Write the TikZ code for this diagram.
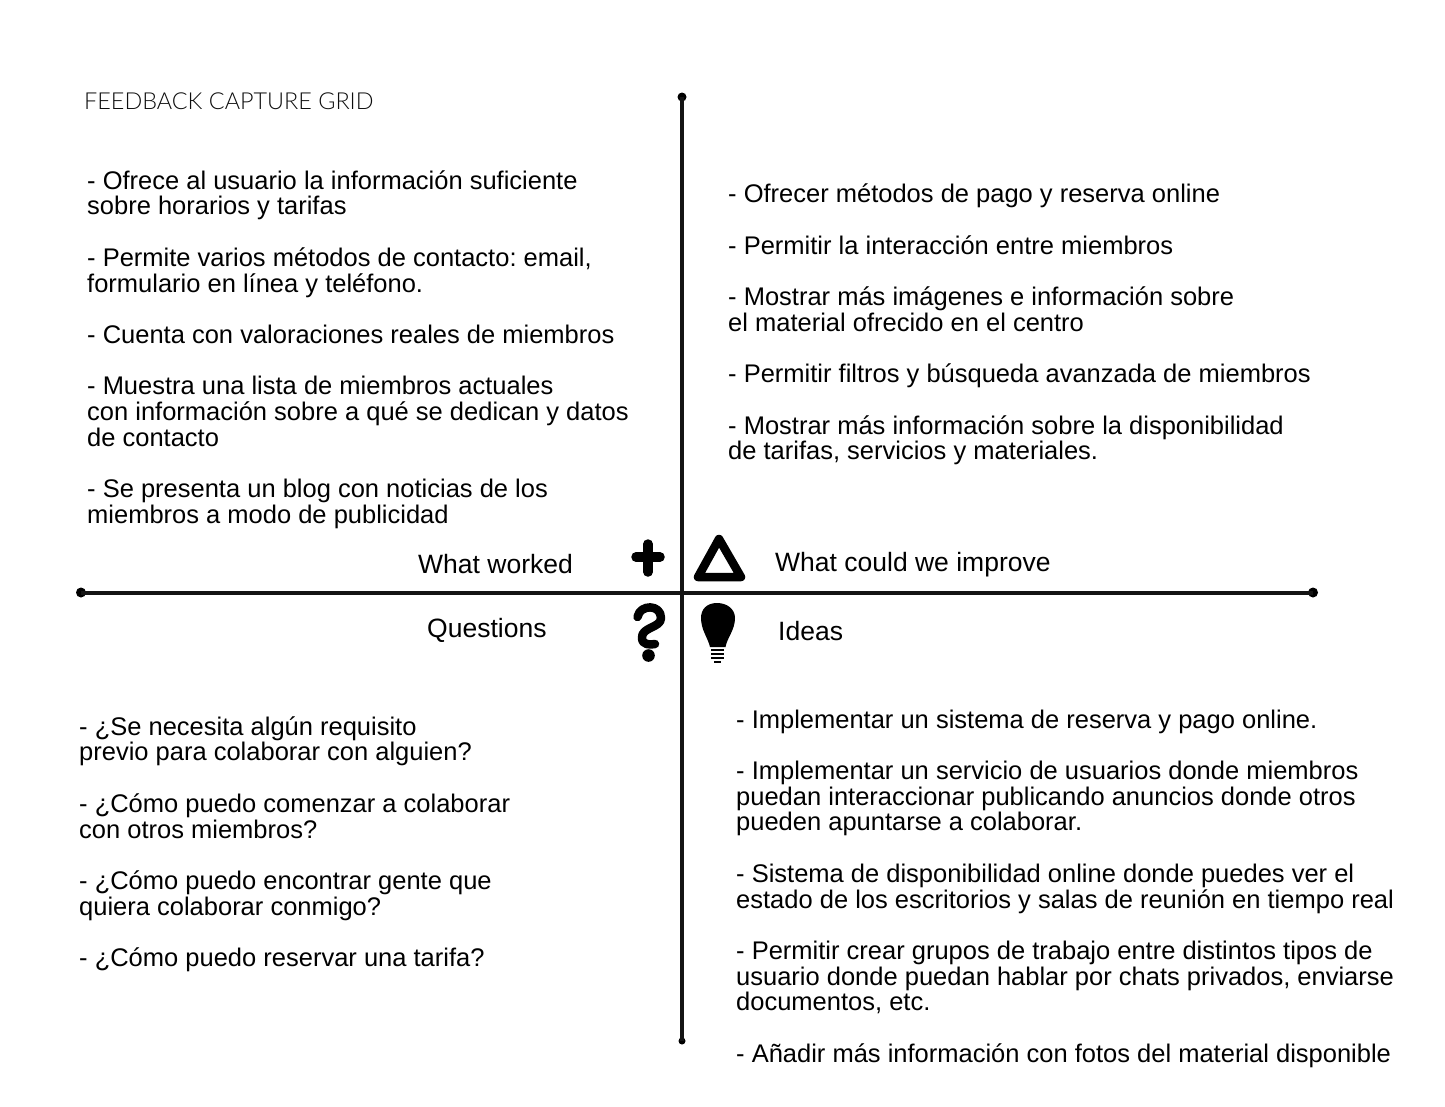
\documentclass[tikz,border=0pt]{standalone}
\usepackage{fontspec}
\setmainfont{Liberation Sans}
\newfontfamily\titlefont{Lato Light}
\frenchspacing
\tikzset{
  body/.style={anchor=north west,inner sep=0pt,align=left,font=\fontsize{25.5}{25.7}\selectfont},
  lab/.style={anchor=west,inner sep=0pt,font=\fontsize{26.5}{27}\selectfont},
  axis/.style={line width=4pt,draw=black!92},
  enddot/.style={circle,fill=black,inner sep=0pt,minimum size=10pt},
  icon/.style={draw=black,line cap=round,line join=round},
}
\newcommand{\firstline}{\rule{0pt}{18pt}}
\begin{document}
\begin{tikzpicture}[x=1pt,y=-1pt]
\useasboundingbox (0,0) rectangle (1445,1106);
\node[enddot,minimum size=9pt] (vt) at (682,97) {};
\node[enddot,minimum size=7pt] (vb) at (682,1041) {};
\node[enddot] (hl) at (81,592.5) {};
\node[enddot] (hr) at (1313,592.5) {};
\draw[axis] (vt.center) -- (vb.center);
\draw[axis] (hl.center) -- (hr.center);

\node[inner sep=0pt,anchor=west,text=black!95,font=\titlefont\fontsize{23.4}{25}\selectfont] (title) at (84,101) {FEEDBACK CAPTURE GRID};

\node[body] (worked) at (87,170.3) {\firstline- Ofrece al usuario la información suficiente\\
sobre horarios y tarifas\\[25.7pt]
- Permite varios métodos de contacto: email,\\
formulario en línea y teléfono.\\[25.7pt]
- Cuenta con valoraciones reales de miembros\\[25.7pt]
- Muestra una lista de miembros actuales\\
con información sobre a qué se dedican y datos\\
de contacto\\[25.7pt]
- Se presenta un blog con noticias de los\\
miembros a modo de publicidad};

\node[body] (improve) at (728,184) {\firstline- Ofrecer métodos de pago y reserva online\\[25.7pt]
- Permitir la interacción entre miembros\\[25.7pt]
- Mostrar más imágenes e información sobre\\
el material ofrecido en el centro\\[25.7pt]
- Permitir filtros y búsqueda avanzada de miembros\\[25.7pt]
- Mostrar más información sobre la disponibilidad\\
de tarifas, servicios y materiales.};

\node[body] (questions) at (79,716.3) {\firstline- ¿Se necesita algún requisito\\
previo para colaborar con alguien?\\[25.7pt]
- ¿Cómo puedo comenzar a colaborar\\
con otros miembros?\\[25.7pt]
- ¿Cómo puedo encontrar gente que\\
quiera colaborar conmigo?\\[25.7pt]
- ¿Cómo puedo reservar una tarifa?};

\node[body] (ideas) at (736,709.5) {\firstline- Implementar un sistema de reserva y pago online.\\[25.7pt]
- Implementar un servicio de usuarios donde miembros\\
puedan interaccionar publicando anuncios donde otros\\
pueden apuntarse a colaborar.\\[25.7pt]
- Sistema de disponibilidad online donde puedes ver el\\
estado de los escritorios y salas de reunión en tiempo real\\[25.7pt]
- Permitir crear grupos de trabajo entre distintos tipos de\\
usuario donde puedan hablar por chats privados, enviarse\\
documentos, etc.\\[25.7pt]
- Añadir más información con fotos del material disponible};

\node[lab] (lworked) at (418,564) {What worked};
\node[lab] (limprove) at (775,565) {What could we improve};
\node[lab] (lquestions) at (427,630) {Questions};
\node[lab] (lideas) at (778,631) {Ideas};

% plus
\draw[icon,line width=9.5pt] (648,544) -- (648,572);
\draw[icon,line width=9.5pt] (636,557) -- (660,557);
% triangle
\draw[icon,line width=8.5pt] (719,539) -- (741,577) -- (698,577) -- cycle;
% question mark
\draw[icon,line width=8.5pt] (637.5,617) .. controls (640,604) and (661,604) .. (661,618)
  .. controls (661,628) and (641,627) .. (642,638) .. controls (642,645) and (650,645) .. (655,644);
\fill (648.5,655.5) circle (6.3pt);
% bulb
\fill (717,603) .. controls (727,603) and (735,609) .. (735,618)
  .. controls (735,630) and (727,638) .. (725.5,647)
  -- (710,647) .. controls (708,638) and (701,630) .. (701,618)
  .. controls (701,609) and (707,603) .. (717,603) -- cycle;
\draw[line width=2pt] (711,650) -- (724,650);
\draw[line width=2pt] (711,654) -- (724,654);
\draw[line width=2pt] (711,658) -- (724,658);
\draw[line width=2pt] (714,661.5) -- (721,661.5);
\end{tikzpicture}
\end{document}
